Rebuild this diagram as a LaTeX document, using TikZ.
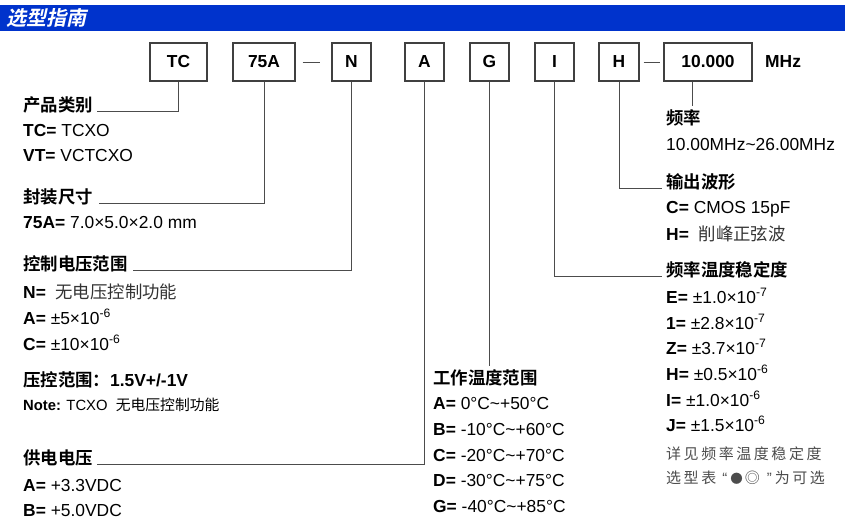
\documentclass[tikz,border=0pt]{standalone}
\usepackage{fontspec}
\setmainfont{Liberation Sans}
\newfontfamily\cjk{Noto Sans CJK SC}[BoldFont={Noto Sans CJK SC Bold}]
\newfontfamily\cjktitle{Noto Sans CJK SC Bold}[FakeSlant=0.22]
\newfontfamily\cjkwide{Noto Sans CJK SC}[LetterSpace=17]
\newcommand\zh[1]{{\cjk #1}}
\usetikzlibrary{positioning}
\definecolor{barblue}{RGB}{0,51,204}
\tikzset{
  box/.style={draw=black!75, line width=1.1pt, minimum height=38pt, minimum width=39pt, inner sep=0pt, font=\bfseries\fontsize{17.4}{17}\selectfont},
  head/.style={anchor=base west, inner sep=0pt, font=\cjk\bfseries\fontsize{17.4}{17}\selectfont},
  txt/.style={anchor=base west, inner sep=0pt, font=\fontsize{17.4}{17}\selectfont},
  note/.style={anchor=base west, inner sep=0pt, font=\fontsize{14.8}{15}\selectfont},
  grey/.style={anchor=base west, inner sep=0pt, text=black!70, font=\cjkwide\fontsize{15}{15}\selectfont},
  wire/.style={draw=black!70, line width=1pt}
}

\begin{document}
\begin{tikzpicture}[x=1pt,y=-1pt]
\useasboundingbox (0,0) rectangle (850,528);
\fill[barblue] (0,5) rectangle (845,31);
\node[anchor=west, inner sep=0pt, text=white, font=\cjktitle\fontsize{20}{20}\selectfont] (title) at (6,18) {选型指南};

\node[box, minimum width=57pt] (tc) at (178.5,62) {TC};
\node[box, minimum width=62pt] (pkg) at (264,62) {75A};
\node[box] (ctl) at (351.5,62) {N};
\node[box] (sup) at (424.5,62) {A};
\node[box] (tmp) at (489.5,62) {G};
\node[box] (stab) at (554.5,62) {I};
\node[box, minimum width=40pt] (out) at (619,62) {H};
\node[box, minimum width=88pt] (frq) at (708,62) {10.000};
\node[anchor=west, inner sep=0pt, font=\bfseries\fontsize{17.4}{17}\selectfont] (mhz) at (765,62) {MHz};
\draw[wire, shorten <=7pt, shorten >=11pt] (pkg) -- (ctl);
\draw[wire, shorten <=4pt, shorten >=3pt] (out) -- (frq);

\node[head] (cat) at (23,111) {产品类别};
\node[txt] (cat1) at (23,136) {\textbf{TC=} TCXO};
\node[txt] (cat2) at (23,161) {\textbf{VT=} VCTCXO};
\node[head] (size) at (23,203) {封装尺寸};
\node[txt] (size1) at (23,228) {\textbf{75A=} 7.0×5.0×2.0 mm};
\node[head] (vc) at (23,270) {控制电压范围};
\node[txt] (vc1) at (23,298) {\textbf{N=}\ \ {\color{black!80}\zh{无电压控制功能}}};
\node[txt] (vc2) at (23,324) {\textbf{A=} ±5×10\textsuperscript{-6}};
\node[txt] (vc3) at (23,350) {\textbf{C=} ±10×10\textsuperscript{-6}};
\node[txt, font=\bfseries\fontsize{17.4}{17}\selectfont] (vcr) at (23,386) {\zh{压控范围：}1.5V+/-1V};
\node[note] (vcn) at (23,410) {\textbf{Note:} TCXO\ \ \zh{无电压控制功能}};
\node[head] (vdd) at (23,464) {供电电压};
\node[txt] (vdd1) at (23,491) {\textbf{A=} +3.3VDC};
\node[txt] (vdd2) at (23,516) {\textbf{B=} +5.0VDC};

\node[head] (temp) at (433,384) {工作温度范围};
\node[txt] (temp1) at (433,409) {\textbf{A=} 0°C\textasciitilde+50°C};
\node[txt] (temp2) at (433,435) {\textbf{B=} -10°C\textasciitilde+60°C};
\node[txt] (temp3) at (433,461) {\textbf{C=} -20°C\textasciitilde+70°C};
\node[txt] (temp4) at (433,486) {\textbf{D=} -30°C\textasciitilde+75°C};
\node[txt] (temp5) at (433,512) {\textbf{G=} -40°C\textasciitilde+85°C};

\node[head] (fhd) at (666,124) {频率};
\node[txt] (f1) at (666,150) {10.00MHz\textasciitilde26.00MHz};
\node[head] (ohd) at (666,188) {输出波形};
\node[txt] (o1) at (666,213) {\textbf{C=} CMOS 15pF};
\node[txt] (o2) at (666,240) {\textbf{H=}\ \ {\color{black!80}\zh{削峰正弦波}}};
\node[head] (shd) at (666,276) {频率温度稳定度};
\node[txt] (s1) at (666,303) {\textbf{E=} ±1.0×10\textsuperscript{-7}};
\node[txt] (s2) at (666,329) {\textbf{1=} ±2.8×10\textsuperscript{-7}};
\node[txt] (s3) at (666,354) {\textbf{Z=} ±3.7×10\textsuperscript{-7}};
\node[txt] (s4) at (666,380) {\textbf{H=} ±0.5×10\textsuperscript{-6}};
\node[txt] (s5) at (666,406) {\textbf{I=} ±1.0×10\textsuperscript{-6}};
\node[txt] (s6) at (666,431) {\textbf{J=} ±1.5×10\textsuperscript{-6}};
\node[grey] (sn1) at (666,459) {详见频率温度稳定度};
\node[grey] (sn2) at (666,483) {选型表\hspace{6pt}{\rmfamily “}\hspace{3pt}{\cjk\fontsize{12.5}{12}\selectfont ●}\hspace{2pt}{\cjk ◎}\hspace{7pt}{\rmfamily "}\hspace{3pt}为可选};

\coordinate (tend) at (489.5,366);
\coordinate (fend) at (692,106);
\draw[wire] (tc.south) |- ([xshift=4pt]cat.base east);
\draw[wire] (pkg.south) |- ([xshift=6pt]size.base east);
\draw[wire] (ctl.south) |- ([xshift=5pt]vc.base east);
\draw[wire] (sup.south) |- ([xshift=4pt]vdd.base east);
\draw[wire] (tmp.south) -- (tend);
\draw[wire] (stab.south) |- ([xshift=-4pt]shd.base west);
\draw[wire] (out.south) |- ([xshift=-4pt]ohd.base west);
\draw[wire] (frq.south -| fend) -- (fend);
\end{tikzpicture}
\end{document}
